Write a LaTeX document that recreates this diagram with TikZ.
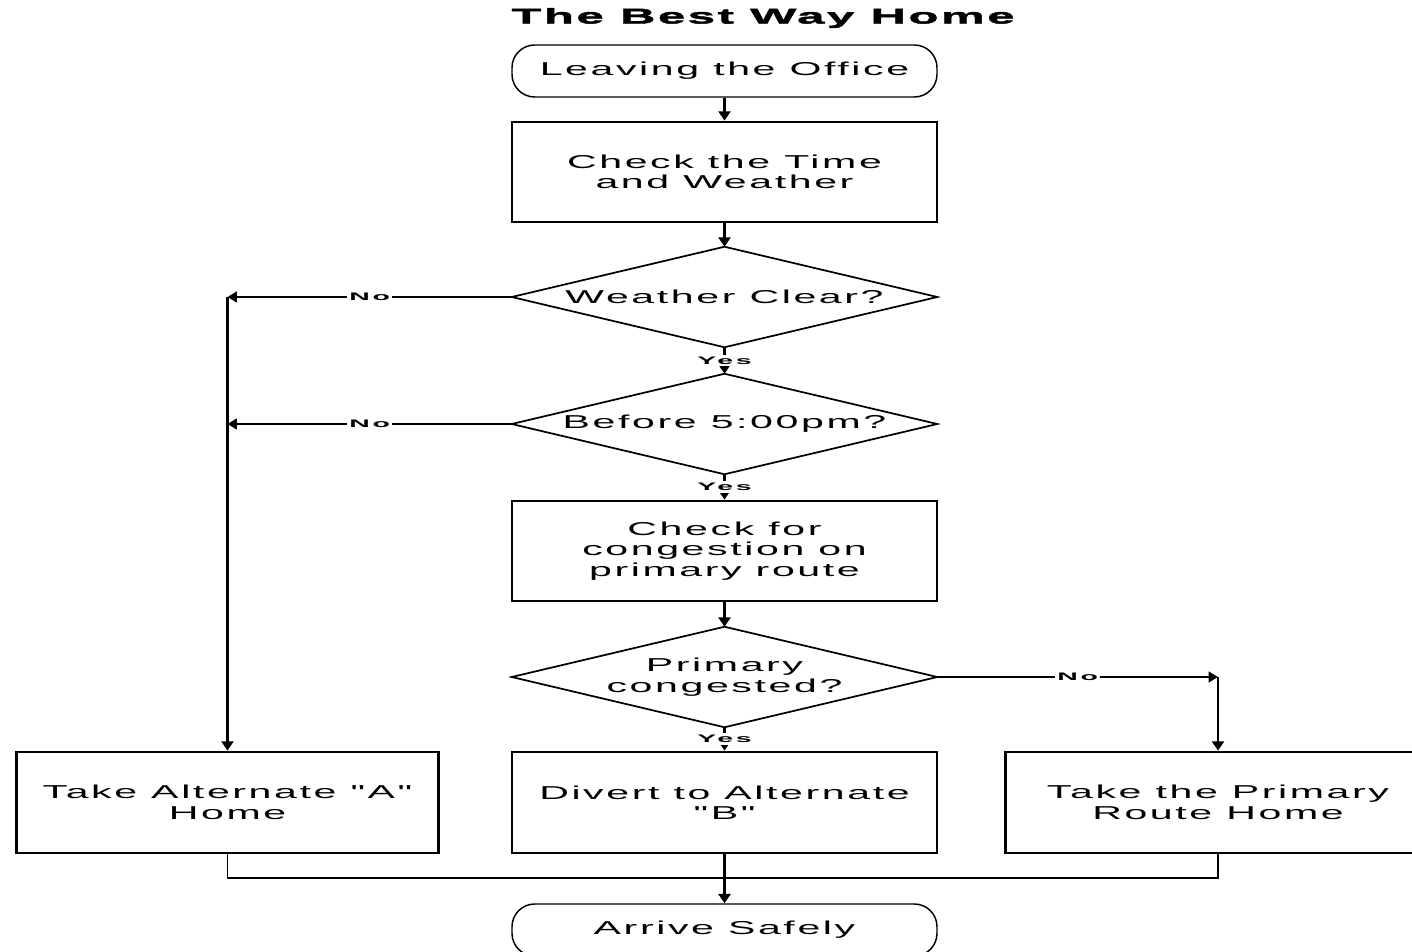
\documentclass[tikz,border=0pt]{standalone}
\usepackage{fontspec}
\usetikzlibrary{arrows.meta}
\newfontfamily\bodyfont[FakeStretch=2.2,LetterSpace=14]{Liberation Sans}
\newfontfamily\titlefont[FakeStretch=2.3,LetterSpace=12,FakeBold=2]{Liberation Sans Bold}
\newfontfamily\labelfont[FakeStretch=2.6,LetterSpace=25]{Liberation Sans Bold}
\tikzset{
  txt/.style={font=\bodyfont\fontsize{14pt}{15.4pt}\selectfont, align=center, inner sep=0pt},
  term/.style={txt, draw, line width=1.1pt, rounded corners=17pt, minimum width=318.75pt, minimum height=39pt},
  procbox/.style={txt, draw, line width=2.1pt, minimum width=318.75pt, minimum height=75pt},
  decision/.style={txt, minimum width=318.75pt, minimum height=75pt},
  dshape/.style={line width=1.3pt},
  conn/.style={line width=2.1pt, -{Triangle[length=7pt,width=9pt]}},
  nconn/.style={line width=1.6pt, -{Triangle[length=7pt,width=8pt]}},
  plain/.style={line width=1.4pt},
  lbl/.style={font=\labelfont\fontsize{8.2pt}{8.5pt}\selectfont, fill=white, inner sep=1.5pt}
}
\begin{document}
\begin{tikzpicture}[x=0.75pt,y=-0.75pt]
\clip (0,0) rectangle (1412,952);
\fill[white] (0,0) rectangle (1412,952);
\node[font=\titlefont\fontsize{16pt}{16pt}\selectfont, inner sep=0pt] (title) at (763,18) {The Best Way Home};
\node[term] (start) at (724.5,71) {Leaving the Office};
\node[procbox] (box1) at (724.5,172) {Check the Time\\and Weather};
\node[decision] (d1) at (724.5,297) {Weather Clear?};
\node[decision] (d2) at (724.5,424) {Before 5:00pm?};
\node[procbox] (box2) at (724.5,551) {Check for\\congestion on\\primary route};
\node[decision] (d3) at (724.5,677) {Primary\\congested?};
\node[procbox, minimum width=317pt, minimum height=75.75pt] (lbox) at (227.5,802.5) {Take Alternate "A"\\Home};
\node[procbox, minimum height=75.75pt] (mbox) at (724.5,802.5) {Divert to Alternate\\"B"};
\node[procbox, minimum height=75.75pt] (rbox) at (1218,802.5) {Take the Primary\\Route Home};
\node[term] (end) at (724.5,930) {Arrive Safely};

\foreach \d in {d1,d2,d3}
  \draw[dshape] (\d.north) -- (\d.east) -- (\d.south) -- (\d.west) -- cycle;

\coordinate (c1) at (lbox.north |- d1.west);
\coordinate (c2) at (lbox.north |- d2.west);
\coordinate (c3) at (rbox.north |- d3.east);
\coordinate (bl) at (227.5,878);
\coordinate (br) at (1218,878);
\coordinate (bm) at (724.5,878);

\draw[conn] (start) -- (box1);
\draw[conn] (box1) -- (d1.north);
\draw[conn] (d1.south) -- node[lbl] {Yes} (d2.north);
\draw[conn] (d2.south) -- node[lbl] {Yes} (box2.north);
\draw[conn] (box2) -- (d3.north);
\draw[conn] (d3.south) -- node[lbl] {Yes} (mbox.north);

\draw[nconn] (d1.west) -- node[lbl] {No} (c1);
\draw[conn] (c1) -- (lbox.north);
\draw[nconn] (d2.west) -- node[lbl] {No} (c2);
\draw[nconn] (d3.east) -- node[lbl] {No} (c3);
\draw[conn] (c3) -- (rbox.north);

\draw[plain] (lbox.south) -- (bl) -- (br) -- (rbox.south);
\draw[conn] (mbox.south) -- (end.north);
\end{tikzpicture}
\end{document}
